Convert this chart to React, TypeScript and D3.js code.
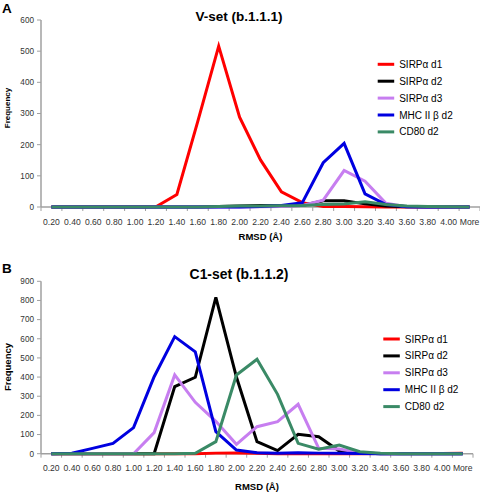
import React from "react";
import * as d3 from "d3";

const categories = ["0.20","0.40","0.60","0.80","1.00","1.20","1.40","1.60","1.80","2.00","2.20","2.40","2.60","2.80","3.00","3.20","3.40","3.60","3.80","4.00","More"];
const seriesNames = ["SIRPα d1", "SIRPα d2", "SIRPα d3", "MHC II β d2", "CD80 d2"];
const seriesColors = ["#ff0000", "#000000", "#c77ef0", "#0000e0", "#3a8a66"];

// Panel A: V-set (b.1.1.1)
const vSetD1 = [0,0,0,0,0,1,40,275,516,288,151,49,14,2,2,1,0,0,0,0,0];
const vSetD2 = [0,0,0,0,0,0,0,0,2,3,5,4,5,20,20,10,3,1,0,0,0];
const vSetD3 = [0,0,0,0,0,0,0,0,0,0,1,2,5,22,117,83,12,1,0,0,0];
const vSetMhc = [0,0,0,0,0,0,0,0,0,0,2,5,14,142,204,42,8,1,0,0,0];
const vSetCd80 = [0,0,0,0,0,0,0,0,2,3,3,4,5,8,10,17,8,3,2,1,0];
const vSetTicks = [0,100,200,300,400,500,600];

// Panel B: C1-set (b.1.1.2)
const c1SetD1 = [0,0,0,0,0,0,0,0,3,4,2,0,0,0,0,0,1,1,1,1,2];
const c1SetD2 = [0,0,0,0,0,0,350,399,816,400,63,16,101,89,14,5,0,0,0,0,0];
const c1SetD3 = [0,0,0,0,0,110,411,268,169,49,141,167,258,28,25,5,0,0,0,0,0];
const c1SetMhc = [0,2,28,54,136,402,611,532,115,19,5,3,5,3,2,1,0,0,0,0,0];
const c1SetCd80 = [0,0,0,0,0,0,0,2,63,411,493,310,54,23,45,10,2,0,0,0,0];
const c1SetTicks = [0,100,200,300,400,500,600,700,800,900];

const FONT = "'Liberation Sans', Arial, sans-serif";

type PanelProps = {
  letter: string;
  title: string;
  titleSize: number;
  series: number[][];
  ticks: number[];
  x0: number; x1: number;
  yTop: number; yBottom: number;
  titleY: number; letterY: number;
  yLabelX: number; yLabelSize: number; yLabelCenter: number;
  xLabelY: number; xTitleY: number;
  legendX: number; legendY: number;
};

function Panel(p: PanelProps) {
  const x = d3.scaleBand<string>().domain(categories).range([p.x0, p.x1]).padding(0);
  const maxV = p.ticks[p.ticks.length - 1];
  const y = d3.scaleLinear().domain([0, maxV]).range([p.yBottom, p.yTop]);
  const line = d3.line<number>()
    .x((_, i) => (x(categories[i]) as number) + x.bandwidth() / 2)
    .y((v) => y(v));
  const boundaries = categories.map((c) => x(c) as number).concat([p.x1]);
  const axisColor = "#a0a0a0";
  return (
    <g>
      <text x={2} y={p.letterY} fontFamily={FONT} fontWeight="bold" fontSize={13.5} fill="#000">{p.letter}</text>
      <text x={239} y={p.titleY} textAnchor="middle" fontFamily={FONT} fontWeight="bold" fontSize={p.titleSize} fill="#000">{p.title}</text>
      {/* y axis */}
      <line x1={p.x0} x2={p.x0} y1={p.yTop} y2={p.yBottom} stroke={axisColor} strokeWidth={1.5} />
      {p.ticks.map((t) => (
        <g key={t}>
          <line x1={p.x0 - 4} x2={p.x0} y1={y(t)} y2={y(t)} stroke={axisColor} strokeWidth={1} />
          <text x={p.x0 - 7} y={y(t)} dy="0.35em" textAnchor="end" fontFamily={FONT} fontSize={8.2} fill="#333">{t}</text>
        </g>
      ))}
      <text transform={`translate(${p.yLabelX},${p.yLabelCenter}) rotate(-90)`} textAnchor="middle" fontFamily={FONT} fontWeight="bold" fontSize={p.yLabelSize} fill="#000">Frequency</text>
      {/* x axis */}
      <line x1={p.x0} x2={p.x1} y1={p.yBottom} y2={p.yBottom} stroke={axisColor} strokeWidth={1.5} />
      {boundaries.map((b, i) => (
        <line key={i} x1={b} x2={b} y1={p.yBottom} y2={p.yBottom + 4} stroke={axisColor} strokeWidth={1} />
      ))}
      {categories.map((c) => (
        <text key={c} x={(x(c) as number) + x.bandwidth() / 2} y={p.xLabelY} textAnchor="middle" fontFamily={FONT} fontSize={8.6} fill="#333">{c}</text>
      ))}
      <text x={(p.x0 + p.x1) / 2} y={p.xTitleY} textAnchor="middle" fontFamily={FONT} fontWeight="bold" fontSize={9.5} fill="#000">RMSD (Å)</text>
      {/* lines */}
      {p.series.map((s, i) => (
        <path key={i} d={line(s) as string} fill="none" stroke={seriesColors[i]} strokeWidth={3} strokeLinejoin="miter" />
      ))}
      {/* legend */}
      {seriesNames.map((n, i) => (
        <g key={n} transform={`translate(${p.legendX},${p.legendY + i * 16.9})`}>
          <line x1={0} x2={16.5} y1={0} y2={0} stroke={seriesColors[i]} strokeWidth={3} />
          <text x={21.5} y={0} dy="0.35em" fontFamily={FONT} fontSize={10} fill="#000">{n}</text>
        </g>
      ))}
    </g>
  );
}

export default function App() {
  return (
    <div style={{ position: "absolute", left: 0, top: 0 }}>
      <svg width={480} height={492} style={{ display: "block", background: "#fff" }}>
        <Panel
          letter="A" title="V-set (b.1.1.1)" titleSize={13.5}
          series={[vSetD1, vSetD2, vSetD3, vSetMhc, vSetCd80]}
          ticks={vSetTicks}
          x0={41} x1={480} yTop={20} yBottom={207}
          titleY={21} letterY={13}
          yLabelX={10} yLabelSize={8} yLabelCenter={108}
          xLabelY={224.7} xTitleY={240}
          legendX={377.7} legendY={64.3}
        />
        <Panel
          letter="B" title="C1-set (b.1.1.2)" titleSize={13.9}
          series={[c1SetD1, c1SetD2, c1SetD3, c1SetMhc, c1SetCd80]}
          ticks={c1SetTicks}
          x0={41} x1={473} yTop={281.3} yBottom={453.7}
          titleY={279} letterY={273}
          yLabelX={11} yLabelSize={9.5} yLabelCenter={367}
          xLabelY={471} xTitleY={490}
          legendX={383.3} legendY={339}
        />
      </svg>
    </div>
  );
}
